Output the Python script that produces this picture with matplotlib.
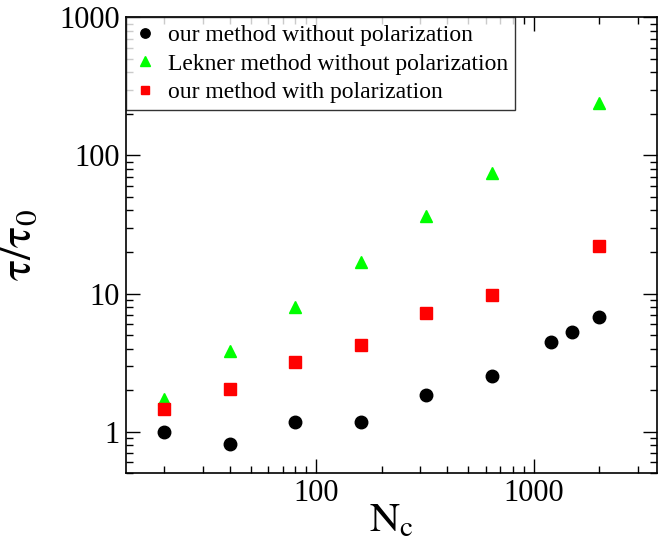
import matplotlib
matplotlib.use("Agg")
import matplotlib.pyplot as plt
from matplotlib.ticker import LogLocator, NullFormatter, FuncFormatter

plt.rcParams["font.family"] = ["Liberation Serif", "DejaVu Serif"]
plt.rcParams["mathtext.fontset"] = "stix"

# data
n_ours = [20, 40, 80, 160, 320, 640, 1200, 1500, 2000]
tau_ours = [1.0, 0.82, 1.17, 1.17, 1.85, 2.53, 4.47, 5.3, 6.73]

n_lekner = [20, 40, 80, 160, 320, 640, 2000]
tau_lekner = [1.72, 3.82, 7.95, 16.9, 36.3, 74.8, 239]

n_pol = [20, 40, 80, 160, 320, 640, 2000]
tau_pol = [1.47, 2.05, 3.19, 4.23, 7.23, 9.8, 22]

fig = plt.figure(figsize=(6.59, 5.5), dpi=100)
ax = fig.add_axes([0.1907, 0.1395, 0.807, 0.829])

ax.plot(n_ours, tau_ours, "o", color="black", ms=9,
        label="our method without polarization")
ax.plot(n_lekner, tau_lekner, "^", color="#00ff00", ms=9,
        label="Lekner method without polarization")
ax.plot(n_pol, tau_pol, "s", color="#ff0000", ms=8,
        label="our method with polarization")

ax.set_xscale("log")
ax.set_yscale("log")
ax.set_xlim(13.3, 3700)
ax.set_ylim(0.5, 1000)

fmt = FuncFormatter(lambda v, p: f"{v:g}")
for axis in (ax.xaxis, ax.yaxis):
    axis.set_major_locator(LogLocator(base=10))
    axis.set_minor_locator(LogLocator(base=10, subs=range(2, 10)))
    axis.set_major_formatter(fmt)
    axis.set_minor_formatter(NullFormatter())

ax.tick_params(which="both", direction="in", top=True, right=True,
               width=1, labelsize=22)
ax.tick_params(which="major", length=10, pad=4)
ax.tick_params(which="minor", length=5)
for s in ax.spines.values():
    s.set_linewidth(1.2)

ax.set_xlabel(r"$\mathrm{N_c}$", fontsize=30, labelpad=-4)
ax.set_ylabel(r"$\mathrm{\tau/\tau_0}$", fontsize=32, labelpad=14)

leg = ax.legend(loc="upper left", fontsize=17, markerscale=0.75,
                frameon=True, fancybox=False, edgecolor="black",
                borderaxespad=0, handletextpad=0.5, borderpad=0.3,
                labelspacing=0.3, handlelength=1.0)
leg.get_frame().set_linewidth(1)

fig.savefig("out.png", dpi=100)
